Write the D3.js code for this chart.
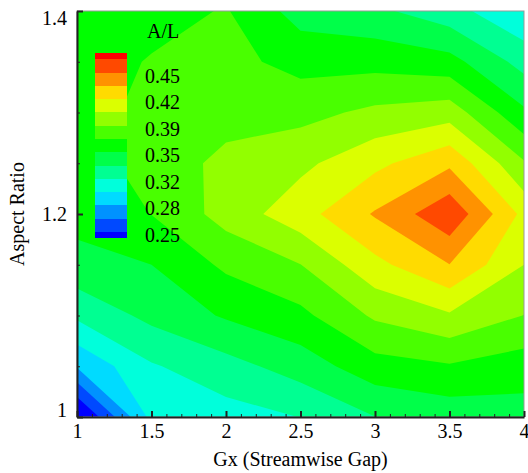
<!DOCTYPE html>
<html>
<head>
<meta charset="utf-8">
<title>A/L contour</title>
<script src="https://d3js.org/d3.v7.min.js"></script>
<style>
body { margin: 0; background: #fff; }
svg text { font-family: "Liberation Serif", "Times New Roman", serif; font-size: 20px; fill: #000; }
.axis path, .axis line { stroke: #222; }
</style>
</head>
<body>
<script>
// node positions of the measured grid
var gx = [1, 1.5, 2, 2.5, 3, 3.5, 4];
var ar = [1.0, 1.05, 1.1, 1.15, 1.2, 1.25, 1.3, 1.35, 1.4];

// A/L at each node, one row per aspect ratio
var al_100 = [0.227, 0.305, 0.310, 0.317, 0.333, 0.340, 0.343];
var al_105 = [0.285, 0.315, 0.327, 0.341, 0.360, 0.365, 0.358];
var al_110 = [0.320, 0.338, 0.352, 0.3625, 0.386, 0.398, 0.383];
var al_115 = [0.345, 0.350, 0.370, 0.383, 0.412, 0.433, 0.400];
var al_120 = [0.355, 0.367, 0.390, 0.410, 0.435, 0.463, 0.412];
var al_125 = [0.357, 0.375, 0.387, 0.396, 0.4125, 0.430, 0.385];
var al_130 = [0.358, 0.373, 0.378, 0.378, 0.387, 0.3925, 0.353];
var al_135 = [0.358, 0.368, 0.372, 0.361, 0.361, 0.356, 0.327];
var al_140 = [0.358, 0.360, 0.368, 0.343, 0.337, 0.323, 0.302];

// contour levels and the legend labels written at every second level
var levels = [0.25, 0.2667, 0.2833, 0.30, 0.3167, 0.3333, 0.35, 0.3667,
              0.3833, 0.40, 0.4167, 0.4333, 0.45, 0.4667];
var legendLabels = ["0.25", "0.28", "0.32", "0.35", "0.39", "0.42", "0.45"];

var xTicks = [1, 1.5, 2, 2.5, 3, 3.5, 4];
var yTicks = [1, 1.2, 1.4];

var W = 528, H = 473;
var L = 77, R = 524, T = 11, B = 417;

var svg = d3.select("body").append("svg")
    .attr("width", W).attr("height", H);

var x = d3.scaleLinear().domain([1, 4]).range([L, R]);
var y = d3.scaleLinear().domain([1, 1.4]).range([B, T]);

// small rainbow: blue - cyan - green - yellow - red, 15 bands
var rainbow = d3.scaleLinear()
    .domain([0, 0.25, 0.5, 0.75, 1])
    .range(["#0000ff", "#00ffff", "#00ff00", "#ffff00", "#ff0000"]);
function bandColor(i) { return rainbow(i / levels.length); }

// contours on the node grid
var rows = [al_100, al_105, al_110, al_115, al_120, al_125, al_130, al_135, al_140];
var values = [].concat.apply([], rows);
var nx = gx.length, ny = ar.length;

var contours = d3.contours()
    .size([nx, ny])
    .thresholds(levels)(values);

// d3.contours puts node i at grid coordinate i + 0.5
var gi = d3.scaleLinear().domain([0.5, nx - 0.5]).range([gx[0], gx[nx - 1]]);
var gj = d3.scaleLinear().domain([0.5, ny - 0.5]).range([ar[0], ar[ny - 1]]);
var path = d3.geoPath(d3.geoTransform({
  point: function(px, py) { this.stream.point(x(gi(px)), y(gj(py))); }
}));

svg.append("clipPath").attr("id", "plot")
  .append("rect")
    .attr("x", L).attr("y", T)
    .attr("width", R - L).attr("height", B - T);

var field = svg.append("g").attr("clip-path", "url(#plot)");

field.append("rect")
    .attr("x", L).attr("y", T)
    .attr("width", R - L).attr("height", B - T)
    .attr("fill", bandColor(0));

field.selectAll("path")
  .data(contours)
  .enter().append("path")
    .attr("d", path)
    .attr("fill", function(d, i) { return bandColor(i + 1); });

// frame
svg.append("rect")
    .attr("x", L).attr("y", T)
    .attr("width", R - L).attr("height", B - T)
    .attr("fill", "none")
    .attr("stroke", "#999")
    .attr("stroke-width", 1);

// axes, ticks pointing into the plot
svg.append("g").attr("class", "axis")
    .attr("transform", "translate(0," + B + ")")
    .call(d3.axisBottom(x).tickValues(d3.range(1, 4.001, 0.1))
      .tickSize(-3).tickSizeOuter(0).tickFormat(""))
    .call(function(g) { g.select(".domain").remove(); });

svg.append("g").attr("class", "axis")
    .attr("transform", "translate(" + L + ",0)")
    .call(d3.axisLeft(y).tickValues(d3.range(1, 1.4001, 0.05))
      .tickSize(-3).tickSizeOuter(0).tickFormat(""))
    .call(function(g) { g.select(".domain").remove(); });

var xAxis = svg.append("g").attr("class", "axis")
    .attr("transform", "translate(0," + B + ")")
    .call(d3.axisBottom(x).tickValues(xTicks)
      .tickSize(-6).tickSizeOuter(0).tickPadding(7)
      .tickFormat(d3.format("")));
xAxis.select(".domain").attr("stroke-width", 2);
xAxis.selectAll("line").attr("stroke-width", 2);
xAxis.selectAll("text").style("font-size", "20px").attr("fill", "#000");

var yAxis = svg.append("g").attr("class", "axis")
    .attr("transform", "translate(" + L + ",0)")
    .call(d3.axisLeft(y).tickValues(yTicks)
      .tickSize(-6).tickSizeOuter(0).tickPadding(10)
      .tickFormat(d3.format("")));
yAxis.select(".domain").attr("stroke-width", 2);
yAxis.selectAll("line").attr("stroke-width", 2);
yAxis.selectAll("text").style("font-size", "20px").attr("fill", "#000")
    .attr("y", function(d) { return d === 1.4 ? 7 : d === 1 ? -7 : 0; });

// axis titles
svg.append("text")
    .attr("x", (L + R) / 2).attr("y", 466)
    .attr("text-anchor", "middle")
    .text("Gx (Streamwise Gap)");

svg.append("text")
    .attr("transform", "translate(24," + ((T + B) / 2) + ") rotate(-90)")
    .attr("text-anchor", "middle")
    .text("Aspect Ratio");

// colour legend
var legY = d3.scaleLinear().domain([0, levels.length - 1]).range([232, 59.3]);
var legend = svg.append("g");

legend.selectAll("rect")
  .data(d3.range(levels.length + 1))
  .enter().append("rect")
    .attr("x", 95).attr("width", 32)
    .attr("y", function(i) { return legY(i === levels.length ? i - 0.55 : i); })
    .attr("height", function(i) {
      var lo = i === 0 ? -0.45 : i - 1;
      var hi = i === levels.length ? i - 0.55 : i;
      return legY(lo) - legY(hi);
    })
    .attr("fill", bandColor)
    .attr("shape-rendering", "crispEdges");

legend.selectAll("text.lab")
  .data(legendLabels)
  .enter().append("text")
    .attr("class", "lab")
    .attr("x", 145)
    .attr("y", function(d, i) { return legY(i * 2) + 10; })
    .text(function(d) { return d; });

legend.append("text")
    .attr("x", 147).attr("y", 38)
    .text("A/L");
</script>
</body>
</html>
